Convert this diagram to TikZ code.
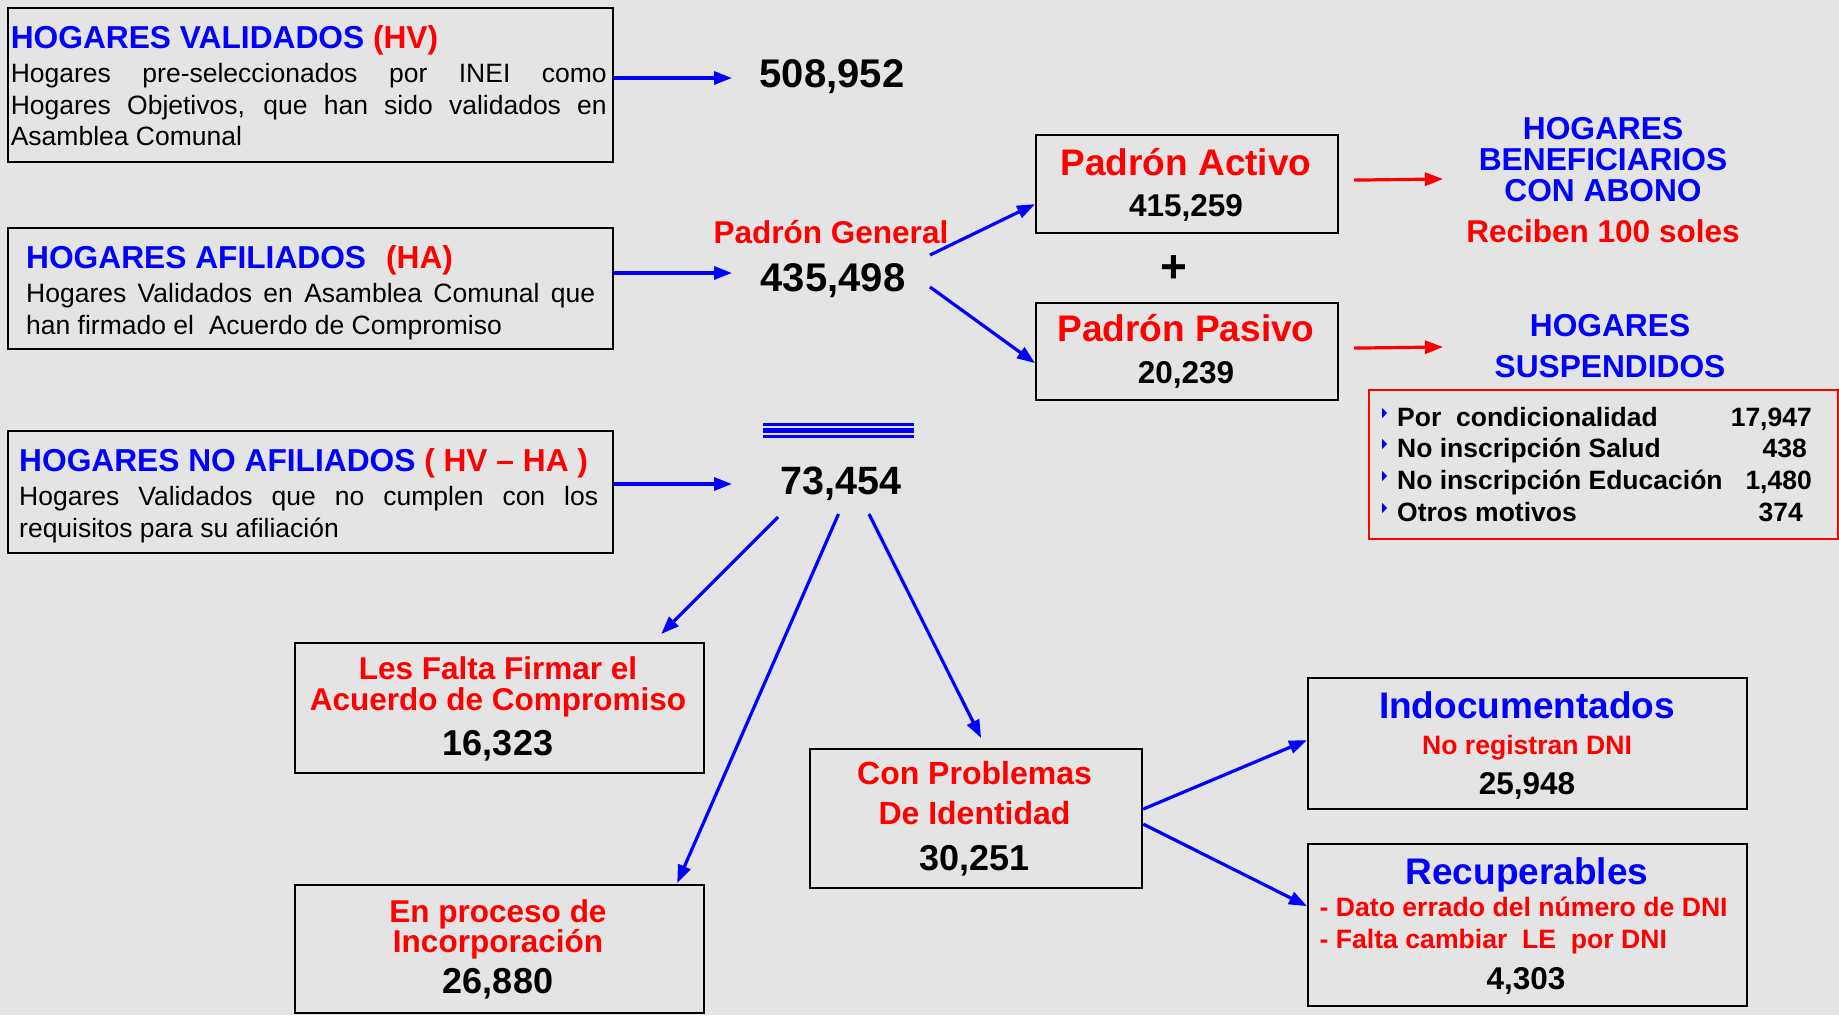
\documentclass[tikz,border=0pt]{standalone}
\usepackage{fontspec}
\setmainfont{Liberation Sans}
\usetikzlibrary{arrows.meta}
\definecolor{tblue}{RGB}{0,0,255}
\definecolor{tred}{RGB}{255,0,0}
\definecolor{bgc}{RGB}{228,228,228}
\newcommand\fsz[1]{\fontsize{#1}{#1}\selectfont}
\begin{document}
\begin{tikzpicture}[x=1pt,y=-1pt,
  box/.style={draw=black, line width=2.2pt, inner sep=0pt, anchor=north west},
  txt/.style={inner sep=0pt, anchor=base},
  ltxt/.style={inner sep=0pt, anchor=base west},
  rtxt/.style={inner sep=0pt, anchor=base east},
  barr/.style={draw=tblue, line width=3.2pt, -{Triangle[length=18pt,width=13pt]}},
  rarr/.style={draw=tred, line width=3.2pt, -{Triangle[length=18pt,width=13pt]}},
  body/.style={font=\fsz{26.5}},
  bbody/.style={font=\fsz{26.5}\bfseries},
  ttl/.style={font=\fsz{31.7}\bfseries},
  big/.style={font=\fsz{40}\bfseries},
  mid/.style={font=\fsz{31.5}\bfseries},
  hd/.style={font=\fsz{37}\bfseries},
]
\useasboundingbox (0,0) rectangle (1839,1015);
\fill[bgc] (0,0) rectangle (1839,1015);

% ---------- left boxes ----------
\node[box, minimum width=605pt, minimum height=154pt] (hv) at (7,7) {};
\node[ltxt, ttl] (hvt) at (10.6,48.6) {\textcolor{tblue}{HOGARES VALIDADOS} \textcolor{tred}{(HV)}};
\node[ltxt, body] (hv1) at (10.6,82.5) {\hbox to 596pt{Hogares pre-seleccionados por INEI como}};
\node[ltxt, body] (hv2) at (10.6,114.5) {\hbox to 596pt{Hogares Objetivos, que han sido validados en}};
\node[ltxt, body] (hv3) at (10.6,145.5) {Asamblea Comunal};

\node[box, minimum width=605pt, minimum height=121pt] (ha) at (7,227) {};
\node[ltxt, ttl] (hat) at (26,268) {\textcolor{tblue}{HOGARES AFILIADOS}\hspace{20pt}\textcolor{tred}{(HA)}};
\node[ltxt, body] (ha1) at (26,302.5) {\hbox to 569pt{Hogares Validados en Asamblea Comunal que}};
\node[ltxt, body] (ha2) at (26,334.5) {han firmado el\ \ Acuerdo de Compromiso};

\node[box, minimum width=605pt, minimum height=122pt] (hna) at (7,430) {};
\node[ltxt, ttl] (hnat) at (19,471.6) {\textcolor{tblue}{HOGARES NO AFILIADOS} \textcolor{tred}{( HV – HA )}};
\node[ltxt, body] (hna1) at (19,505.5) {\hbox to 579pt{Hogares Validados que no cumplen con los}};
\node[ltxt, body] (hna2) at (19,537.5) {requisitos para su afiliación};

% ---------- central numbers ----------
\node[txt, big] (n508) at (832,87) {508,952};
\node[txt, mid, text=tred] (pg) at (831,243) {Padrón General};
\node[txt, big] (n435) at (833,291) {435,498};
\node[txt, font=\fsz{39.5}\bfseries] (n73) at (841,494) {73,454};
\draw[tblue, line width=3pt] (763,424) -- (914,424);
\draw[tblue, line width=5.5pt] (763,430.5) -- (914,430.5);
\draw[tblue, line width=2.5pt] (763,436.5) -- (914,436.5);

\coordinate (e508) at (732,78);
\coordinate (e435) at (732,273);
\coordinate (e73) at (732,484);
\draw[barr] (hv.east |- e508) -- (e508);
\draw[barr] (ha.east |- e435) -- (e435);
\draw[barr] (hna.east |- e73) -- (e73);

% ---------- padron boxes ----------
\node[box, minimum width=302pt, minimum height=98pt] (pa) at (1035,134) {};
\node[txt, hd, text=tred] (pat) at (1186,175) {Padrón Activo};
\node[txt, mid] (pan) at (1186,216) {415,259};
\node[font=\fsz{46}\bfseries, inner sep=0pt] (plus) at (1174,269) {+};
\node[box, minimum width=302pt, minimum height=97pt] (pp) at (1035,302) {};
\node[txt, hd, text=tred] (ppt) at (1186,341) {Padrón Pasivo};
\node[txt, mid] (ppn) at (1186,383) {20,239};

\coordinate (pg1) at (930,255);
\coordinate (pg2) at (930,287);
\draw[barr] (pg1) -- ([yshift=-20pt]pa.west);
\draw[barr] (pg2) -- ([yshift=-11.5pt]pp.west);

\coordinate (ra) at (1443,179);
\coordinate (rp) at (1443,347);
\draw[rarr] ([xshift=15pt,yshift=4pt]pa.east) -- (ra);
\draw[rarr] ([xshift=15pt,yshift=3.5pt]pp.east) -- (rp);

\node[txt, ttl, text=tblue] (hb1) at (1603,139) {HOGARES};
\node[txt, ttl, text=tblue] (hb2) at (1603,170) {BENEFICIARIOS};
\node[txt, ttl, text=tblue] (hb3) at (1603,201) {CON ABONO};
\node[txt, font=\fsz{31.5}\bfseries, text=tred] (hb4) at (1603,242) {Reciben 100 soles};
\node[txt, ttl, text=tblue] (hs1) at (1610,336) {HOGARES};
\node[txt, ttl, text=tblue] (hs2) at (1610,377) {SUSPENDIDOS};

\node[box, draw=tred, line width=2pt, minimum width=469pt, minimum height=149pt] (susp) at (1368,389) {};
\foreach \yy in {417,448,480,512} {
  \fill[tblue] (1382,\yy-9) -- (1382,\yy+1) -- (1387,\yy-4) -- cycle;
}
\node[ltxt, bbody] (s1) at (1397,426.5) {Por\ \ condicionalidad};
\node[ltxt, bbody] (s2) at (1397,457.5) {No inscripción Salud};
\node[ltxt, bbody] (s3) at (1397,489.5) {No inscripción Educación};
\node[ltxt, bbody] (s4) at (1397,521.5) {Otros motivos};
\node[rtxt, bbody] (v1) at (1812,426.5) {17,947};
\node[rtxt, bbody] (v2) at (1807,457.5) {438};
\node[rtxt, bbody] (v3) at (1812,489.5) {1,480};
\node[rtxt, bbody] (v4) at (1803,521.5) {374};

% ---------- lower boxes ----------
\node[box, minimum width=409pt, minimum height=130pt] (lf) at (294,642) {};
\node[txt, mid, text=tred] (lf1) at (498,679) {Les Falta Firmar el};
\node[txt, mid, text=tred] (lf2) at (498,710) {Acuerdo de Compromiso};
\node[txt, font=\fsz{36}\bfseries] (lf3) at (498,755) {16,323};

\node[box, minimum width=409pt, minimum height=128pt] (ep) at (294,884) {};
\node[txt, mid, text=tred] (ep1) at (498,922) {En proceso de};
\node[txt, mid, text=tred] (ep2) at (498,952) {Incorporación};
\node[txt, font=\fsz{36}\bfseries] (ep3) at (498,993) {26,880};

\node[box, minimum width=332pt, minimum height=139pt] (cp) at (809,748) {};
\node[txt, font=\fsz{32}\bfseries, text=tred] (cp1) at (974.5,784.5) {Con Problemas};
\node[txt, font=\fsz{32}\bfseries, text=tred] (cp2) at (974.5,824.5) {De Identidad};
\node[txt, font=\fsz{36}\bfseries] (cp3) at (974.5,870) {30,251};

\coordinate (s73a) at (778,517);
\coordinate (s73b) at (838.5,514);
\coordinate (s73c) at (869,514);
\draw[barr] (s73a) -- ([xshift=-44pt,yshift=8pt]lf.north east);
\draw[barr] (s73b) -- ([xshift=-28pt,yshift=1pt]ep.north east);
\draw[barr] (s73c) -- ([xshift=5pt,yshift=10pt]cp.north);

\node[box, minimum width=439pt, minimum height=131pt] (ind) at (1307,677) {};
\node[txt, hd, text=tblue] (ind1) at (1527,718) {Indocumentados};
\node[txt, font=\fsz{26.6}\bfseries, text=tred] (ind2) at (1527,754.5) {No registran DNI};
\node[txt, mid] (ind3) at (1527,794) {25,948};

\node[box, minimum width=439pt, minimum height=162pt] (rec) at (1307,843) {};
\node[txt, hd, text=tblue] (rec1) at (1527,884) {Recuperables};
\node[ltxt, font=\fsz{26.6}\bfseries, text=tred] (rec2) at (1319.5,916.5) {- Dato errado del número de DNI};
\node[ltxt, font=\fsz{26.6}\bfseries, text=tred] (rec3) at (1319.5,948.5) {- Falta cambiar\ \ LE\ \ por DNI};
\node[txt, mid] (rec4) at (1526,989) {4,303};

\draw[barr] ([yshift=9.5pt]cp.east) -- ([yshift=3.5pt]ind.west);
\draw[barr] ([yshift=-5.5pt]cp.east) -- ([yshift=19pt]rec.west);
\end{tikzpicture}
\end{document}
